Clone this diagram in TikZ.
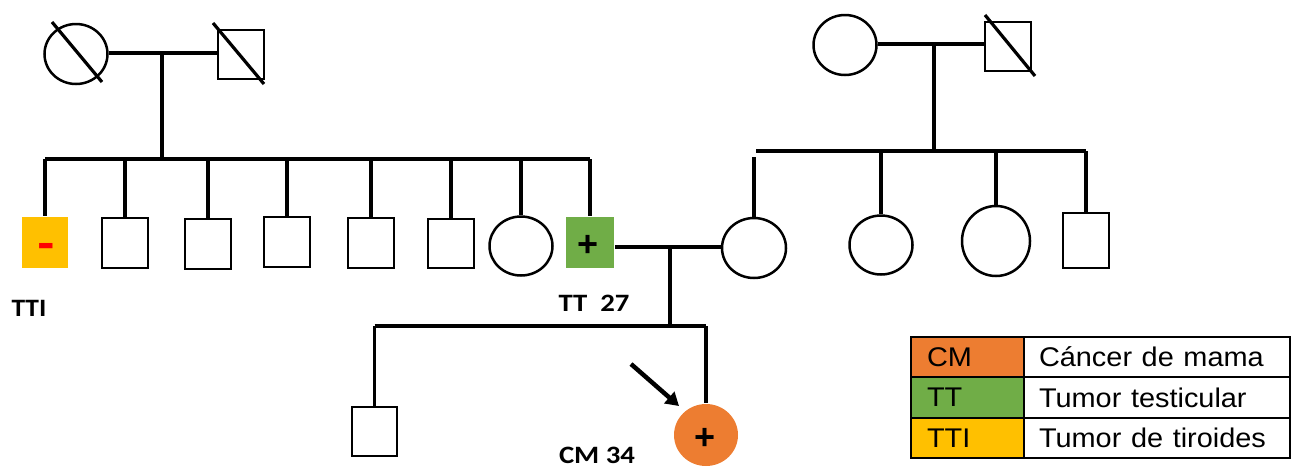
\documentclass[tikz,border=0pt]{standalone}
\usepackage{fontspec}
\setmainfont{Liberation Sans}
\newfontfamily\carlito{Carlito}
\usetikzlibrary{shapes.geometric,arrows.meta}
\definecolor{cmorange}{HTML}{ED7D31}
\definecolor{ttgreen}{HTML}{70AD47}
\definecolor{ttiyellow}{HTML}{FFC000}
\definecolor{minusred}{HTML}{FF0000}
\begin{document}
\begin{tikzpicture}[x=1pt,y=-1pt,
  male/.style={draw,line width=2.5pt,rectangle,minimum width=46pt,minimum height=50pt,inner sep=0pt},
  female/.style={draw,line width=2.5pt,ellipse,minimum width=63pt,minimum height=60pt,inner sep=0pt},
  rel/.style={line width=3.2pt},
  slash/.style={line width=3.2pt},
  lbl/.style={font=\carlito\bfseries\fontsize{25}{30}\selectfont,inner sep=0pt},
  sign/.style={font=\bfseries\fontsize{36}{40}\selectfont,inner sep=0pt},
  cell/.style={draw,line width=2pt,rectangle,inner ysep=0pt,align=left,font=\fontsize{27}{30}\selectfont,minimum height=40pt}]
\useasboundingbox (0,0) rectangle (1295,467);

% generation I
\node[female] (gm1) at (76,54) {};
\node[male,minimum height=49pt] (gf1) at (241,54.5) {};
\draw[slash] (gm1.center) +(-24,-32) -- +(26,28);
\draw[slash] (gf1.center) +(-28,-31.5) -- +(23,29.5);
\node[female] (gm2) at (845,45) {};
\node[male,minimum height=49pt] (gf2) at (1008,46.5) {};
\draw[slash] (gf2.center) +(-23,-31.5) -- +(27,29.5);

% generation II
\node[male,draw=none,fill=ttiyellow,minimum height=51pt] (c1) at (45,242.5) {};
\node[male] (c2) at (125,243) {};
\node[male] (c3) at (208,244) {};
\node[male] (c4) at (287,242) {};
\node[male] (c5) at (371,243) {};
\node[male,minimum height=49pt] (c6) at (451,243.5) {};
\node[female,minimum height=59pt] (c7) at (521,246) {};
\node[male,draw=none,fill=ttgreen,minimum width=48pt,minimum height=51pt] (c8) at (590,242.5) {};
\node[female,minimum width=64pt] (sp) at (754,248) {};
\node[female,minimum height=59pt] (s2) at (881,245) {};
\node[female,minimum width=68pt,minimum height=70pt] (s3) at (996,241) {};
\node[male,minimum height=55pt] (s4) at (1086,240.5) {};

\node[inner sep=0pt,anchor=base,text=minusred,font=\bfseries\fontsize{44}{48}\selectfont] (minus) at (46,257) {\scalebox{1.2}[1]{-}};
\node[sign] (plus1) at (588,246) {+};

% generation III
\node[male,minimum width=45pt,minimum height=49pt] (g1) at (374.5,431.5) {};
\node[female,draw=none,fill=cmorange,minimum width=64pt,minimum height=62pt] (g2) at (706,435) {};
\node[sign] (plus2) at (705,438.5) {+};

% family 1
\coordinate (m1) at (162,53);
\coordinate (sib1) at (162,159);
\draw[rel] (gm1.east |- m1) -- (gf1.west |- m1);
\draw[rel] (m1) -- (sib1);
\draw[rel] (c1.north |- sib1) -- (c8.north |- sib1);
\foreach \c in {c1,c2,c3,c4,c5,c6,c7,c8}
  \draw[rel] (\c.north |- sib1) -- (\c.north);

% family 2
\coordinate (m2) at (934,44);
\coordinate (sib2) at (934,151);
\draw[rel] (gm2.east |- m2) -- (gf2.west |- m2);
\draw[rel] (m2) -- (sib2);
\draw[rel] (756,151) -- (s4.north |- sib2);
\draw[rel] (sp.north |- 0,157) -- (sp.north);
\foreach \c in {s2,s3,s4}
  \draw[rel] (\c.north |- sib2) -- (\c.north);

% family 3
\coordinate (m3) at (670,247);
\coordinate (sib3) at (670,326);
\draw[rel] (c8.east |- m3) -- (sp.west |- m3);
\draw[rel] (m3) -- (sib3);
\draw[rel] (g1.north |- sib3) -- (g2.north |- sib3);
\draw[rel] (g1.north |- sib3) -- (g1.north);
\draw[rel] (g2.north |- sib3) -- (g2.north);

% proband arrow
\coordinate (arr) at (631,364);
\coordinate (arrtip) at (679,406);
\draw[line width=4.5pt,-{Triangle[length=13pt,width=15pt]}] (arr) -- (arrtip);

% labels
\node[lbl] (lTTI) at (29,308) {\scalebox{1.1}[1]{TTI}};
\node[lbl] (lTT) at (594,303) {\scalebox{1.15}[1]{TT\ \ 27}};
\node[lbl] (lCM) at (597,455) {\scalebox{1.15}[1]{CM 34}};

% legend
\node[cell,fill=cmorange,text width=81pt,inner xsep=16pt] (k1) at (967.5,357) {\scalebox{1.07}[1]{CM}};
\node[cell,text width=236pt,inner xsep=15pt] (v1) at (1157,357) {\scalebox{1.07}[1]{Cáncer de mama}};
\node[cell,fill=ttgreen,text width=81pt,inner xsep=16pt,minimum height=41pt] (k2) at (967.5,397.5) {\scalebox{1.07}[1]{TT}};
\node[cell,text width=236pt,inner xsep=15pt,minimum height=41pt] (v2) at (1157,397.5) {\scalebox{1.07}[1]{Tumor testicular}};
\node[cell,fill=ttiyellow,text width=81pt,inner xsep=16pt] (k3) at (967.5,438) {\scalebox{1.07}[1]{TTI}};
\node[cell,text width=236pt,inner xsep=15pt] (v3) at (1157,438) {\scalebox{1.07}[1]{Tumor de tiroides}};
\end{tikzpicture}
\end{document}
